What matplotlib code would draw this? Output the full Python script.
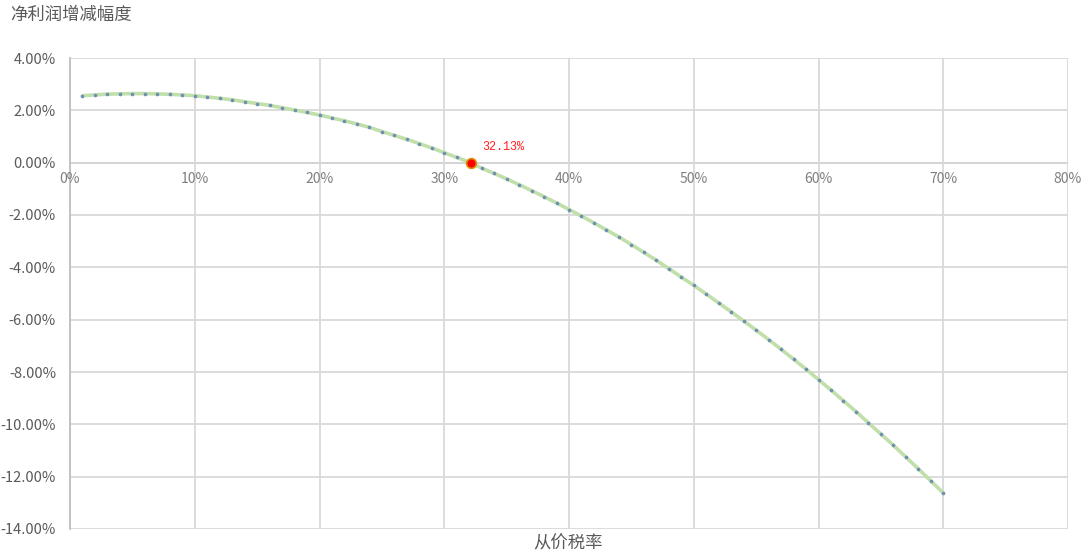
import matplotlib
matplotlib.use("Agg")
import matplotlib.pyplot as plt
from matplotlib.ticker import FuncFormatter, MultipleLocator

plt.rcParams['font.family'] = ['Noto Sans CJK SC', 'DejaVu Sans']

# Ad valorem tax rate (%) and resulting change in net profit (%)
tax_rate = list(range(1, 71))
profit_change = [
    2.56, 2.59, 2.62, 2.63, 2.64, 2.64, 2.63, 2.61, 2.59, 2.56,
    2.51, 2.46, 2.40, 2.33, 2.26, 2.19, 2.10, 2.01, 1.92, 1.82,
    1.71, 1.60, 1.48, 1.35, 1.19, 1.04, 0.89, 0.73, 0.56, 0.38,
    0.20, 0.02, -0.21, -0.41, -0.62, -0.84, -1.07, -1.30, -1.54, -1.79,
    -2.04, -2.30, -2.57, -2.84, -3.13, -3.43, -3.73, -4.05, -4.37, -4.69,
    -5.02, -5.36, -5.70, -6.05, -6.40, -6.76, -7.13, -7.51, -7.89, -8.29,
    -8.69, -9.10, -9.51, -9.94, -10.37, -10.80, -11.25, -11.70, -12.16, -12.62,
]
break_even_rate = 32.13
break_even_change = 0.0
break_even_label = "32.13%"

x_ticks = list(range(0, 81, 10))
x_label = "从价税率"
y_label = "净利润增减幅度"

fig = plt.figure(figsize=(10.84, 5.53), dpi=100)
ax = fig.add_axes([70 / 1084, 24 / 553, 998 / 1084, 471 / 553])

ax.plot(tax_rate, profit_change, color='#c0dfaa', lw=2.6, zorder=3,
        marker='o', markersize=1.6, markerfacecolor='#6f8fb3',
        markeredgecolor='#6f8fb3', solid_capstyle='round')
ax.plot([break_even_rate], [break_even_change], marker='o', markersize=7,
        markerfacecolor='#ff0000', markeredgecolor='#e08a00',
        markeredgewidth=1.2, zorder=5, linestyle='none')
ax.annotate(break_even_label, (break_even_rate, break_even_change),
            xytext=(8, 9), textcoords='offset points', color='#ff2020',
            fontsize=8.5, family=['Liberation Mono', 'DejaVu Sans Mono'])

ax.set_xlim(0, 80)
ax.set_ylim(-14, 4)
ax.set_xticks(x_ticks)
ax.yaxis.set_major_locator(MultipleLocator(2))
ax.yaxis.set_major_formatter(FuncFormatter(lambda v, p: f"{v:.2f}%"))

ax.grid(True, color='#d9d9d9', lw=1.3, zorder=0)
ax.axhline(0, color='#a6a6a6', lw=1.3, zorder=1)
for side in ('top', 'right', 'bottom'):
    ax.spines[side].set_visible(False)
ax.spines['left'].set_color('#bfbfbf')
ax.spines['left'].set_linewidth(1.3)

ax.tick_params(axis='both', length=0)
ax.tick_params(axis='y', pad=10, labelcolor='#595959', labelsize=10.5)
ax.xaxis.set_tick_params(labelbottom=False)

# x tick labels sit just under the zero line
for v in x_ticks:
    ax.text(v, -0.35, f"{v}%", ha='center', va='top', color='#7f7f7f',
            fontsize=10, clip_on=False)

fig.text(10 / 1084, 1 - 15 / 553, y_label, ha='left', va='center',
         fontsize=12.5, color='#595959')
fig.text(568 / 1084, 1 - 543 / 553, x_label, ha='center', va='center',
         fontsize=12.5, color='#595959')

fig.savefig('out.png', dpi=100)
